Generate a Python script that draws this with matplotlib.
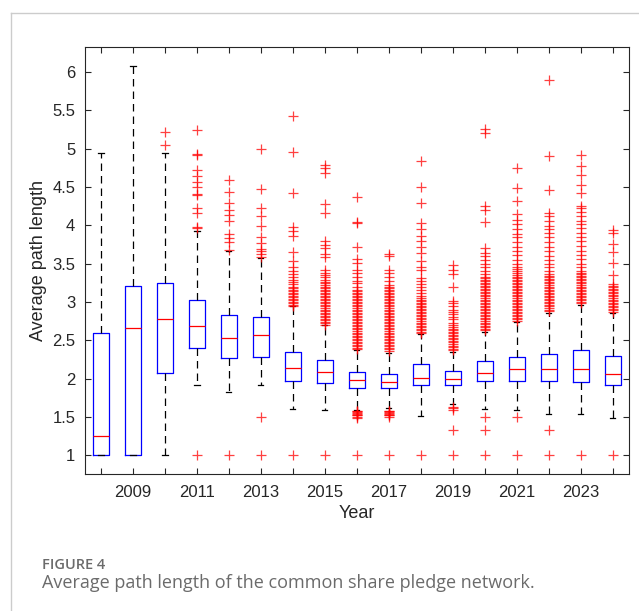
import numpy as np
import matplotlib
matplotlib.use("Agg")
from matplotlib import pyplot as plt
from matplotlib.lines import Line2D

# Box statistics, one entry per year
years = list(range(2008, 2025))
q1 = [1.00, 1.00, 2.07, 2.40, 2.27, 2.28, 1.97, 1.94, 1.88, 1.87, 1.91, 1.92, 1.97, 1.97, 1.97, 1.96, 1.91]
med = [1.25, 2.66, 2.78, 2.69, 2.53, 2.57, 2.14, 2.08, 1.98, 1.96, 2.01, 1.99, 2.07, 2.12, 2.13, 2.12, 2.06]
q3 = [2.59, 3.21, 3.24, 3.03, 2.83, 2.80, 2.35, 2.24, 2.08, 2.06, 2.19, 2.10, 2.23, 2.28, 2.32, 2.37, 2.29]
whislo = [1.00, 1.00, 1.00, 1.92, 1.83, 1.91, 1.60, 1.59, 1.59, 1.61, 1.51, 1.67, 1.60, 1.59, 1.54, 1.54, 1.49]
whishi = [4.94, 6.08, 4.94, 3.93, 3.66, 3.57, 2.94, 2.70, 2.37, 2.33, 2.58, 2.35, 2.61, 2.74, 2.85, 2.96, 2.85]

# Outliers per year
fl_2008 = []
fl_2009 = []
fl_2010 = [5.22, 5.04]
fl_2011 = [5.24, 4.93, 4.91, 4.72, 4.64, 4.57, 4.50, 4.41, 4.39, 4.23, 4.16, 3.98, 3.96, 1.0]
fl_2012 = [4.59, 4.43, 4.29, 4.20, 4.13, 4.05, 3.88, 3.83, 3.78, 3.68, 1.0]
fl_2013 = [5.00, 4.47, 4.23, 4.12, 3.99, 3.85, 3.77, 3.69, 3.66, 3.62, 3.59, 1.5, 1.0]
fl_2014 = [5.43, 4.96, 4.42, 3.98, 3.93, 3.86, 3.65, 3.53, 3.46, 3.40, 3.36, 3.32, 3.29,
           3.26, 3.23, 3.20, 3.18, 3.16, 3.14, 3.12, 3.10, 3.08, 3.06, 3.04, 3.02, 3.00,
           2.98, 2.96, 2.94, 1.0]
fl_2015 = [4.79, 4.75, 4.68, 4.28, 4.16, 3.79, 3.74, 3.70, 3.62, 3.59, 3.41, 3.38, 3.35,
           3.32, 3.29, 3.26, 3.24, 3.22, 3.20, 3.18, 3.16, 3.14, 3.12, 3.10, 3.08, 3.06,
           3.04, 3.02, 3.00, 2.98, 2.96, 2.94, 2.92, 2.90, 2.88, 2.86, 2.84, 2.82, 2.80,
           2.78, 2.76, 2.74, 2.72, 2.70, 1.0]
fl_2016 = [4.37, 4.04, 4.03, 3.71, 3.56, 3.51, 3.42, 3.38, 3.32, 3.27, 3.24, 3.20, 3.16,
           3.14, 3.12, 3.10, 3.08, 3.06, 3.04, 3.02, 3.00, 2.98, 2.96, 2.94, 2.92, 2.90,
           2.88, 2.86, 2.84, 2.82, 2.80, 2.78, 2.76, 2.74, 2.72, 2.70, 2.68, 2.66, 2.64,
           2.62, 2.60, 2.58, 2.56, 2.54, 2.52, 2.50, 2.48, 2.46, 2.44, 2.42, 2.40, 2.38,
           1.58, 1.57, 1.56, 1.55, 1.54, 1.53, 1.52, 1.50, 1.48, 1.0]
fl_2017 = [3.62, 3.60, 3.41, 3.38, 3.32, 3.27, 3.22, 3.20, 3.18, 3.16, 3.14, 3.12, 3.10,
           3.08, 3.06, 3.04, 3.02, 3.00, 2.98, 2.96, 2.94, 2.92, 2.90, 2.88, 2.86, 2.84,
           2.82, 2.80, 2.78, 2.76, 2.74, 2.72, 2.70, 2.68, 2.66, 2.64, 2.62, 2.60, 2.58,
           2.56, 2.54, 2.52, 2.50, 2.48, 2.46, 2.44, 2.42, 2.40, 2.38, 2.36,
           1.58, 1.57, 1.56, 1.55, 1.54, 1.53, 1.52, 1.50, 1.0]
fl_2018 = [4.84, 4.50, 4.29, 4.03, 3.95, 3.86, 3.80, 3.72, 3.64, 3.53, 3.46, 3.41, 3.31,
           3.27, 3.23, 3.19, 3.15, 3.11, 3.07, 3.05, 3.03, 3.01, 2.99, 2.97, 2.95, 2.93,
           2.91, 2.89, 2.87, 2.85, 2.83, 2.81, 2.79, 2.77, 2.75, 2.73, 2.71, 2.69, 2.67,
           2.65, 2.63, 2.61, 2.59, 1.0]
fl_2019 = [3.48, 3.42, 3.36, 3.19, 3.01, 2.98, 2.94, 2.90, 2.87, 2.84, 2.80, 2.77, 2.73,
           2.70, 2.67, 2.65, 2.63, 2.61, 2.59, 2.57, 2.55, 2.53, 2.51, 2.49, 2.47, 2.45,
           2.43, 2.41, 2.39, 2.37, 1.63, 1.61, 1.59, 1.33, 1.0]
fl_2020 = [5.25, 5.20, 4.25, 4.20, 4.04, 3.70, 3.64, 3.60, 3.55, 3.50, 3.45, 3.40, 3.36,
           3.33, 3.31, 3.29, 3.27, 3.25, 3.23, 3.21, 3.19, 3.17, 3.15, 3.13, 3.11, 3.09,
           3.07, 3.05, 3.03, 3.01, 2.99, 2.97, 2.95, 2.93, 2.91, 2.89, 2.87, 2.85, 2.83,
           2.81, 2.79, 2.77, 2.75, 2.73, 2.71, 2.69, 2.67, 2.65, 2.63, 1.50, 1.33, 1.0]
fl_2021 = [4.74, 4.49, 4.31, 4.14, 4.07, 4.01, 3.95, 3.89, 3.84, 3.78, 3.72, 3.67, 3.61,
           3.55, 3.49, 3.46, 3.43, 3.40, 3.37, 3.35, 3.33, 3.31, 3.29, 3.27, 3.25, 3.23,
           3.21, 3.19, 3.17, 3.15, 3.13, 3.11, 3.09, 3.07, 3.05, 3.03, 3.01, 2.99, 2.97,
           2.95, 2.93, 2.91, 2.89, 2.87, 2.85, 2.83, 2.81, 2.79, 2.77, 2.75, 1.50, 1.0]
fl_2022 = [5.90, 4.90, 4.46, 4.16, 4.12, 4.05, 3.99, 3.95, 3.90, 3.85, 3.78, 3.72, 3.66,
           3.60, 3.55, 3.50, 3.45, 3.40, 3.36, 3.34, 3.32, 3.30, 3.28, 3.26, 3.24, 3.22,
           3.20, 3.18, 3.16, 3.14, 3.12, 3.10, 3.08, 3.06, 3.04, 3.02, 3.00, 2.98, 2.96,
           2.94, 2.92, 2.90, 2.88, 1.33, 1.0]
fl_2023 = [4.91, 4.77, 4.66, 4.52, 4.42, 4.25, 4.22, 4.17, 4.12, 4.06, 4.01, 3.96, 3.90,
           3.84, 3.79, 3.73, 3.67, 3.61, 3.56, 3.50, 3.45, 3.40, 3.38, 3.36, 3.34, 3.32,
           3.30, 3.28, 3.26, 3.24, 3.22, 3.20, 3.18, 3.16, 3.14, 3.12, 3.10, 3.08, 3.06,
           3.04, 3.02, 3.00, 2.98, 1.0]
fl_2024 = [3.94, 3.90, 3.76, 3.65, 3.51, 3.35, 3.23, 3.21, 3.19, 3.17, 3.15, 3.13, 3.11,
           3.09, 3.07, 3.05, 3.03, 3.01, 2.99, 2.97, 2.95, 2.93, 2.91, 2.89, 2.87, 1.0]

fliers = [fl_2008, fl_2009, fl_2010, fl_2011, fl_2012, fl_2013, fl_2014, fl_2015, fl_2016,
          fl_2017, fl_2018, fl_2019, fl_2020, fl_2021, fl_2022, fl_2023, fl_2024]

stats = []
for i in range(len(years)):
    stats.append(dict(q1=q1[i], med=med[i], q3=q3[i], whislo=whislo[i],
                      whishi=whishi[i], fliers=fliers[i]))

fig = plt.figure(figsize=(6.39, 6.11), dpi=100)
ax = fig.add_axes([0.133, 0.2237, 0.851, 0.700])

positions = np.arange(1, len(years) + 1)
ax.bxp(stats, positions=positions, widths=0.5, capwidths=0.16,
       boxprops=dict(color='#0000ff', linewidth=0.9),
       medianprops=dict(color='#ff0000', linewidth=0.9),
       whiskerprops=dict(color='black', linestyle=(0, (6, 4)), linewidth=0.9),
       capprops=dict(color='black', linewidth=0.9),
       flierprops=dict(marker='+', markeredgecolor='#ff0000', markersize=6.5,
                       markeredgewidth=0.9, alpha=0.75, linestyle='none'))

ax.set_xlim(0.5, 17.5)
ax.set_ylim(0.75, 6.33)
ax.set_xticks(positions)
ax.set_xticklabels([str(y) if (y % 2 == 1) else '' for y in years])
yt = np.arange(1, 6.01, 0.5)
ax.set_yticks(yt)
ax.set_yticklabels(['%g' % v for v in yt])

ax.tick_params(direction='in', length=4, width=0.8, top=True, right=True,
               colors='#262626', labelsize=12, labelcolor='#262626')
ax.tick_params(axis='x', pad=8)
ax.tick_params(axis='y', pad=7)
for lab in ax.get_xticklabels() + ax.get_yticklabels():
    lab.set_fontfamily('Liberation Sans')
for s in ax.spines.values():
    s.set_color('#262626')
    s.set_linewidth(0.8)

ax.set_xlabel('Year', fontsize=13, family='Liberation Sans', color='#262626', labelpad=3)
ax.set_ylabel('Average path length', fontsize=13, family='Liberation Sans', color='#262626',
              labelpad=4)

# page frame and caption
fig.add_artist(Line2D([10.5 / 639, 10.5 / 639], [0, 1 - 12.7 / 611], transform=fig.transFigure,
                      color='#cccccc', linewidth=1))
fig.add_artist(Line2D([10.5 / 639, 1], [1 - 12.7 / 611, 1 - 12.7 / 611], transform=fig.transFigure,
                      color='#cccccc', linewidth=1))
fig.text(42 / 639, 1 - 565 / 611, 'FIGURE 4', fontsize=10.5, fontweight='semibold',
         family='Open Sans', color='#6b6b6b', va='center', ha='left')
fig.text(42 / 639, 1 - 583 / 611, 'Average path length of the common share pledge network.',
         fontsize=13, family='Open Sans', color='#6b6b6b', va='center', ha='left')

fig.savefig('out.png', dpi=100)
